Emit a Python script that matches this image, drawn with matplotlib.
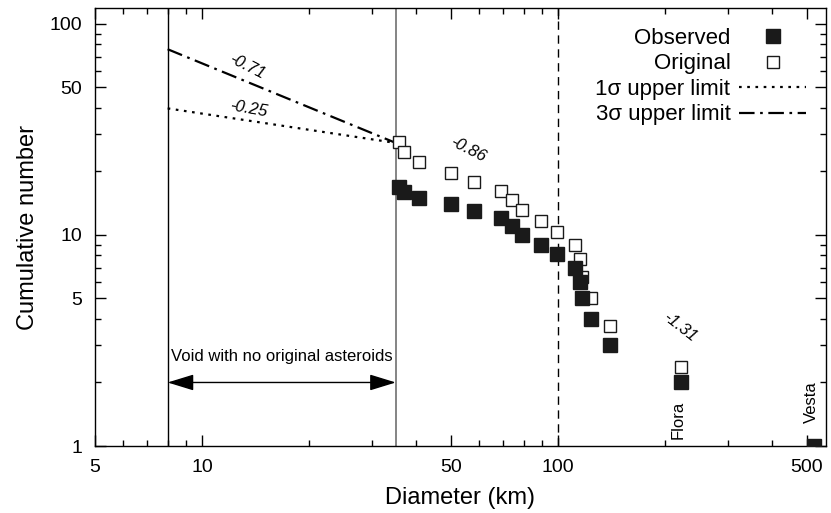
import matplotlib.pyplot as plt
import numpy as np
from matplotlib.ticker import FixedLocator, NullFormatter

plt.rcParams['font.family'] = ['Liberation Sans', 'DejaVu Sans']

# Данные
diam = [35.7, 36.9, 40.7, 50.0, 58.1, 69.0, 74.4, 79.1, 89.8, 99.2,
        111.6, 115.0, 116.6, 123.6, 140.0, 221.0, 524.0]
observed = [16.9, 15.9, 14.9, 14.0, 13.0, 12.0, 11.0, 10.0, 9.0, 8.1,
            7.0, 6.0, 5.0, 4.0, 3.0, 2.0, 1.0]
diam_orig = [35.7, 36.9, 40.7, 50.0, 58.1, 69.0, 74.4, 79.1, 89.8, 99.2,
             111.6, 115.0, 117.0, 123.8, 140.0, 221.0, 524.0]
original = [27.7, 24.7, 22.2, 19.7, 17.9, 16.2, 14.7, 13.2, 11.7, 10.3,
            8.97, 7.67, 6.34, 5.0, 3.7, 2.36, 1.0]

# Верхние пределы (линии от 8 до 35 км)
limit_d = [8.0, 35.0]
limit_1s = [39.8, 27.3]
limit_3s = [75.9, 27.3]

x_major = [5, 10, 50, 100, 500]
y_major = [1, 5, 10, 50, 100]

fig = plt.figure(figsize=(8.31, 5.13), dpi=100)
ax = fig.add_axes([0.1143, 0.1306, 0.8797, 0.8538])
ax.set_xscale('log')
ax.set_yscale('log')
ax.set_xlim(5, 566)
ax.set_ylim(1, 119)

# Вертикальные линии
ax.axvline(8, color='black', linewidth=1.0)
ax.axvline(35, color='#707070', linewidth=1.2)
ax.axvline(100, color='black', linewidth=1.0, linestyle=(0, (6, 4)))

# Линии пределов
ax.plot(limit_d, limit_1s, color='black', linestyle=(0, (1.2, 2.5)),
        linewidth=1.6, label='1σ upper limit')
ax.plot(limit_d, limit_3s, color='black', linestyle=(0, (7, 2.5, 1.2, 2.5)),
        linewidth=1.6, label='3σ upper limit')

# Точки
ax.plot(diam, observed, 's', color='#1a1a1a', markersize=9.5,
        markeredgecolor='#1a1a1a', label='Observed', zorder=4)
ax.plot(diam_orig, original, 's', markerfacecolor='white', markersize=9,
        markeredgecolor='#1a1a1a', markeredgewidth=1.0, label='Original', zorder=3)

# Подписи наклонов
ax.text(13.4, 62.5, '-0.71', fontsize=12, style='italic', rotation=-27,
        ha='center', va='center')
ax.text(13.5, 39.5, '-0.25', fontsize=12, style='italic', rotation=-10,
        ha='center', va='center')
ax.text(55.9, 25.3, '-0.86', fontsize=12, style='italic', rotation=-27,
        ha='center', va='center')
ax.text(220, 3.65, '-1.31', fontsize=12, style='italic', rotation=-38,
        ha='center', va='center')

# Стрелка и текст
ax.annotate('', xy=(8, 2.0), xytext=(35, 2.0),
            arrowprops=dict(arrowstyle='<|-|>,head_length=0.65,head_width=0.2',
                            color='black', linewidth=1.0,
                            mutation_scale=25, shrinkA=0, shrinkB=0))
ax.text(16.7, 2.45, 'Void with no original asteroids', fontsize=12,
        ha='center', va='bottom')

ax.text(218, 1.08, 'Flora', fontsize=12, rotation=90, ha='center', va='bottom')
ax.text(516, 1.28, 'Vesta', fontsize=12, rotation=90, ha='center', va='bottom')

# Оси
ax.xaxis.set_major_locator(FixedLocator(x_major))
ax.set_xticklabels([str(v) for v in x_major])
ax.yaxis.set_major_locator(FixedLocator(y_major))
ax.set_yticklabels([str(v) for v in y_major])
minor_x = [m * 10.0 ** k for k in range(0, 3) for m in range(1, 10)]
minor_x = [v for v in minor_x if v not in x_major]
minor_y = [m * 10.0 ** k for k in range(0, 3) for m in range(1, 10)]
minor_y = [v for v in minor_y if v not in y_major]
ax.xaxis.set_minor_locator(FixedLocator(minor_x))
ax.yaxis.set_minor_locator(FixedLocator(minor_y))
ax.xaxis.set_minor_formatter(NullFormatter())
ax.yaxis.set_minor_formatter(NullFormatter())
ax.tick_params(which='both', direction='in', top=True, right=True,
               labelsize=14, width=1.0)
ax.tick_params(which='major', length=8, pad=9)
ax.tick_params(which='minor', length=4)
for s in ax.spines.values():
    s.set_linewidth(1.0)

ax.set_xlabel('Diameter (km)', fontsize=17, labelpad=8)
ax.set_ylabel('Cumulative number', fontsize=17, labelpad=8)

handles, labels = ax.get_legend_handles_labels()
order = [2, 3, 0, 1]
ax.legend([handles[i] for i in order], [labels[i] for i in order],
          loc='upper right', frameon=False, markerfirst=False, fontsize=16,
          handlelength=3.0, labelspacing=0.2, borderaxespad=0.5,
          handletextpad=0.4)

plt.savefig('out.png', dpi=100)
